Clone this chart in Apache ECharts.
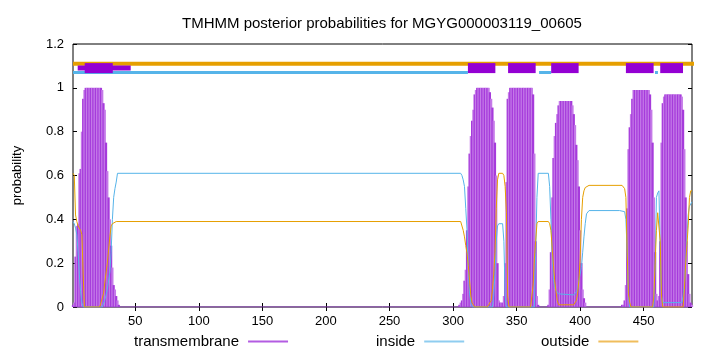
<!DOCTYPE html>
<html>
<head>
<meta charset="utf-8">
<script src="https://cdn.jsdelivr.net/npm/echarts@6/dist/echarts.min.js"></script>
<style>
  html, body { margin: 0; padding: 0; background: #fff; }
  #chart { width: 720px; height: 352px; }
</style>
</head>
<body>
<div id="chart"></div>
<script>
// tick labels
var xTicks = [50, 100, 150, 200, 250, 300, 350, 400, 450];

// transmembrane posterior, one value per residue, runs start at tmStarts[i]
var tmStarts = [1, 305, 375, 433];
var tm1 = [0.01, 0.02, 0.23, 0.37, 0.38, 0.61, 0.63, 0.8, 0.95, 0.99,
  1, 1, 1, 1, 1, 1, 1, 1, 1, 1, 1, 1, 1,
  0.99, 0.93, 0.9, 0.75, 0.62, 0.5, 0.4, 0.28, 0.18, 0.1, 0.08, 0.05, 0.03, 0.01];
var tm2 = [0.01, 0.02, 0.03, 0.06, 0.12, 0.17, 0.35, 0.55, 0.7, 0.78, 0.85, 0.9, 0.97, 0.99,
  1, 1, 1, 1, 1, 1, 1, 1, 1, 1,
  0.98, 0.95, 0.91, 0.85, 0.75, 0.6, 0.2, 0.03, 0.02, 0.02, 0.02, 0.05, 0.2, 0.57, 0.95, 0.98,
  1, 1, 1, 1, 1, 1, 1, 1, 1, 1, 1, 1, 1, 1, 1, 1, 1, 1,
  0.97, 0.7, 0.3, 0.05, 0.01];
var tm3 = [0.01, 0.08, 0.25, 0.5, 0.68, 0.78, 0.84, 0.88, 0.92,
  0.94, 0.94, 0.94, 0.94, 0.94, 0.94, 0.94, 0.94, 0.94, 0.94,
  0.92, 0.88, 0.83, 0.74, 0.67, 0.55, 0.35, 0.2, 0.08, 0.04, 0.02];
var tm4 = [0.01, 0.01, 0.03, 0.1, 0.45, 0.72, 0.82, 0.88, 0.95,
  0.99, 0.99, 0.99, 0.99, 0.99, 0.99, 0.99, 0.99, 0.99, 0.99, 0.99, 0.99, 0.99,
  0.97, 0.9, 0.75, 0.5, 0.25, 0.06, 0.03, 0.05, 0.3, 0.75, 0.93, 0.96,
  0.97, 0.97, 0.97, 0.97, 0.97, 0.97, 0.97, 0.97, 0.97, 0.97, 0.97, 0.97, 0.97,
  0.96, 0.9, 0.72, 0.5, 0.3, 0.15, 0.06, 0.02, 0.01];

// inside / outside posterior, [residue, probability]
var insideLine = [[1,0.39],[2,0.38],[3,0.36],[4,0.33],[5,0.25],[6,0.15],[7,0.07],[8,0.02],[9,0],
  [24,0],[26,0.03],[28,0.08],[30,0.16],[31,0.25],[32,0.4],[33,0.5],[34,0.54],[35,0.57],[36,0.61],
  [306,0.61],[307,0.6],[308,0.58],[309,0.55],[310,0.45],[311,0.35],[312,0.18],[313,0.06],[314,0.02],[315,0],
  [331,0],[332,0.05],[333,0.15],[334,0.3],[335,0.37],[336,0.38],[339,0.38],[340,0.3],[341,0.05],[342,0],
  [364,0],[365,0.25],[366,0.5],[367,0.61],[375,0.61],[376,0.55],[377,0.4],[378,0.25],[379,0.13],[380,0.09],
  [381,0.075],[383,0.06],[395,0.055],[397,0.07],[398,0.08],[399,0.12],[400,0.15],[401,0.18],[402,0.25],
  [403,0.32],[404,0.38],[405,0.425],[407,0.44],[431,0.44],[435,0.435],[436,0.4],[437,0.25],[438,0.05],[439,0],
  [458,0],[459,0.2],[460,0.5],[461,0.52],[462,0.53],[463,0.25],[464,0.05],[465,0.02],
  [480,0.02],[481,0.05],[482,0.1],[483,0.2],[484,0.32],[485,0.42],[486,0.46],[487,0.47],[488,0.48]];
var outsideLine = [[1,0.61],[2,0.6],[3,0.42],[4,0.39],[5,0.37],[6,0.36],[7,0.35],[8,0.33],[9,0.15],[10,0],
  [22,0],[23,0.02],[25,0.06],[26,0.11],[28,0.2],[29,0.26],[30,0.32],[31,0.37],[32,0.38],[35,0.39],
  [306,0.39],[308,0.35],[309,0.32],[310,0.28],[311,0.245],[312,0.19],[313,0.12],[314,0.05],[315,0.02],[317,0],
  [327,0],[328,0.01],[330,0.03],[331,0.08],[332,0.15],[333,0.25],[334,0.45],[335,0.58],[336,0.61],
  [339,0.61],[340,0.6],[341,0.55],[342,0.43],[343,0.05],[344,0],
  [361,0],[363,0.1],[364,0.22],[365,0.3],[366,0.38],[367,0.39],[375,0.39],[376,0.38],[377,0.35],[378,0.27],
  [379,0.19],[380,0.12],[381,0.07],[382,0.03],[383,0.01],[395,0.01],[397,0.03],[398,0.06],[399,0.12],
  [400,0.22],[401,0.4],[402,0.5],[403,0.53],[404,0.545],[407,0.555],[433,0.555],[435,0.54],[436,0.5],
  [437,0.25],[438,0.06],[439,0.02],[440,0],[457,0],[458,0.05],[459,0.2],[460,0.35],[461,0.43],[462,0.43],
  [463,0.3],[464,0.05],[465,0],[481,0],[482,0.08],[483,0.2],[484,0.28],[485,0.37],[486,0.5],[487,0.53],[488,0.53]];

// predicted topology bands along the top (residue ranges)
var outsideBand = [1, 510];
var insideBands = [[1, 311.7], [367.7, 377.2], [458.9, 461.2]];
var tmBands = [[10.2, 32.3], [311.7, 333.3], [343.3, 365], [377.2, 398.8], [436, 457.8], [463, 480.9]];
var tmThinBand = [4.7, 46.4];

var seqLen = 488;
var font = 'Liberation Sans, Arial, sans-serif';

var tmData = [];
[tm1, tm2, tm3, tm4].forEach(function (vals, k) {
  vals.forEach(function (v, i) { tmData.push([tmStarts[k] + i, v]); });
});

function band(range, y, w, color) {
  return {
    type: 'line', data: [[range[0], y], [range[1], y]], symbol: 'none', clip: false,
    lineStyle: { width: w, color: color, cap: 'butt' }, z: 5, silent: true
  };
}

var series = [
  {
    name: 'transmembrane', type: 'bar', data: tmData, barWidth: 2.2,
    itemStyle: { color: function (p) { return p.value[0] % 2 ? '#a63bdb' : '#c47ae8'; } }, z: 2
  },
  { type: 'line', data: [[1, 0], [seqLen, 0]], symbol: 'none', lineStyle: { width: 1, color: '#9b40d0' }, z: 2 },
  { name: 'inside', type: 'line', data: insideLine, symbol: 'none',
    itemStyle: { color: '#56b4e9' }, lineStyle: { width: 1, color: '#56b4e9' }, z: 3 },
  { name: 'outside', type: 'line', data: outsideLine, symbol: 'none',
    itemStyle: { color: '#e69f00' }, lineStyle: { width: 1, color: '#e69f00' }, z: 3 },
  band(outsideBand, 1.11, 4, '#e69f00')
];
insideBands.forEach(function (b) { series.push(band(b, 1.07, 3, '#56b4e9')); });
series.push(band(tmThinBand, 1.09, 5, '#9400d3'));
tmBands.forEach(function (b) { series.push(band(b, 1.09, 10, '#9400d3')); });

function legendItem(name, left, color) {
  return {
    data: [{ name: name, icon: 'rect' }],
    left: left, top: 329,
    align: 'right', itemWidth: 40, itemHeight: 2, selectedMode: false, inactiveColor: color,
    itemStyle: { color: color, borderWidth: 0, opacity: 1 },
    lineStyle: { color: color, width: 0 },
    textStyle: { color: '#000', fontSize: 15, fontFamily: font, padding: [0, 4, 0, 0] }
  };
}

var chart = echarts.init(document.getElementById('chart'));
chart.setOption({
  animation: false,
  title: {
    text: 'TMHMM posterior probabilities for MGYG000003119_00605',
    left: 177, top: 11,
    textStyle: { color: '#000', fontSize: 15, fontWeight: 'normal', fontFamily: font }
  },
  legend: [
    legendItem('transmembrane', 129, '#b35ce2'),
    legendItem('inside', 371, '#8fcdf0'),
    legendItem('outside', 536, '#f0bd5c')
  ],
  grid: { left: 73, right: 28, top: 44, bottom: 45, show: true, borderColor: '#000', borderWidth: 1 },
  xAxis: [
    {
      type: 'value', min: 1, max: seqLen, position: 'bottom',
      axisLine: { show: false }, splitLine: { show: false },
      axisTick: { inside: true, length: 4, lineStyle: { color: '#000' }, customValues: xTicks },
      axisLabel: { customValues: xTicks, color: '#000', fontSize: 13, fontFamily: font, margin: 8 }
    },
    {
      type: 'value', min: 1, max: seqLen, position: 'top',
      axisLine: { show: false }, splitLine: { show: false },
      axisTick: { inside: true, length: 4, lineStyle: { color: '#000' }, customValues: xTicks },
      axisLabel: { show: false }
    }
  ],
  yAxis: [
    {
      type: 'value', min: 0, max: 1.2, interval: 0.2, position: 'left',
      name: 'probability', nameLocation: 'middle', nameGap: 49,
      nameTextStyle: { color: '#000', fontSize: 13, fontFamily: font },
      axisLine: { show: false }, splitLine: { show: false },
      axisTick: { inside: true, length: 4, lineStyle: { color: '#000' } },
      axisLabel: { color: '#000', fontSize: 13, fontFamily: font, margin: 9 }
    },
    {
      type: 'value', min: 0, max: 1.2, interval: 0.2, position: 'right',
      axisLine: { show: false }, splitLine: { show: false },
      axisTick: { inside: true, length: 4, lineStyle: { color: '#000' } },
      axisLabel: { show: false }
    }
  ],
  series: series
});
</script>
</body>
</html>
